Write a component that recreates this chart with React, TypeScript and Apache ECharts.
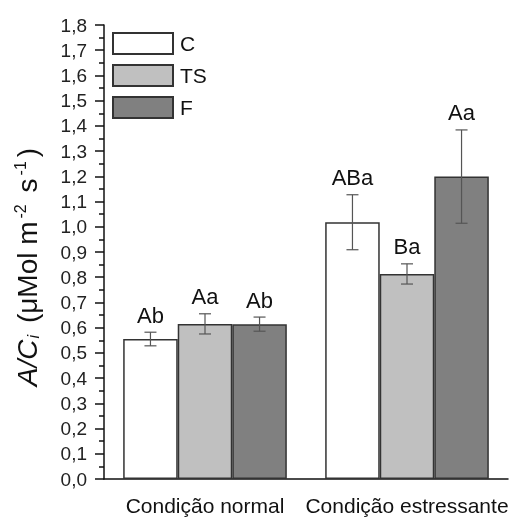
import React, { useEffect, useRef } from "react";
import * as echarts from "echarts";

const categories = ["Condição normal", "Condição estressante"];
const seriesNames = ["C", "TS", "F"];
const valuesC = [0.555, 1.018];
const valuesTS = [0.615, 0.813];
const valuesF = [0.614, 1.199];
const errorsC = [0.027, 0.109];
const errorsTS = [0.04, 0.04];
const errorsF = [0.028, 0.185];
const lettersC = ["Ab", "ABa"];
const lettersTS = ["Aa", "Ba"];
const lettersF = ["Ab", "Aa"];
const barColors = ["#ffffff", "#c0c0c0", "#808080"];

const FONT = "'Liberation Sans', Arial, sans-serif";
const BAR_FRAC = 0.27;

export default function App() {
  const ref = useRef<HTMLDivElement>(null);
  useEffect(() => {
    if (!ref.current) return;
    const chart = echarts.init(ref.current, undefined, { renderer: "svg" });
    const values = [valuesC, valuesTS, valuesF];
    const errors = [errorsC, errorsTS, errorsF];
    const letters = [lettersC, lettersTS, lettersF];

    const barSeries = seriesNames.map((name, k) => ({
      name,
      type: "bar",
      data: values[k],
      barWidth: BAR_FRAC * 100 + "%",
      barGap: "0%",
      itemStyle: { color: barColors[k], borderColor: "#333", borderWidth: 1.5 },
      z: 2,
    }));

    const errSeries = seriesNames.map((name, k) => ({
      name: "err" + name,
      type: "custom",
      z: 5,
      data: values[k].map((v, i) => [i, v, errors[k][i]]),
      encode: { x: 0, y: 1 },
      renderItem: (params: any, api: any) => {
        const idx = api.value(0);
        const v = api.value(1);
        const e = api.value(2);
        const band = api.size([1, 0])[0];
        const off = (k - 1) * band * BAR_FRAC;
        const top = api.coord([idx, v + e]);
        const bot = api.coord([idx, v - e]);
        const x = top[0] + off;
        const cap = 6;
        const ls = { stroke: "#555", lineWidth: 1.2 };
        return {
          type: "group",
          children: [
            { type: "line", shape: { x1: x, y1: top[1], x2: x, y2: bot[1] }, style: ls },
            { type: "line", shape: { x1: x - cap, y1: top[1], x2: x + cap, y2: top[1] }, style: ls },
            { type: "line", shape: { x1: x - cap, y1: bot[1], x2: x + cap, y2: bot[1] }, style: ls },
            {
              type: "text",
              x: x,
              y: top[1] - 17,
              style: {
                text: letters[k][params.dataIndex],
                fill: "#111",
                font: `22px ${FONT}`,
                align: "center",
                verticalAlign: "middle",
              },
            },
          ],
        };
      },
    }));

    const option: any = {
      animation: false,
      textStyle: { fontFamily: FONT },
      grid: { left: 104, right: 5, top: 25, bottom: 39, containLabel: false },
      legend: {
        data: seriesNames,
        orient: "vertical",
        left: 112,
        top: 32,
        padding: 0,
        itemWidth: 60,
        itemHeight: 21,
        itemGap: 9,
        icon: "rect",
        textStyle: { fontSize: 21, color: "#111", fontFamily: FONT, padding: [0, 0, 0, 2], lineHeight: 21 },
      },
      xAxis: [
        {
          type: "category",
          data: categories,
          axisLine: { lineStyle: { color: "#111", width: 1.5 } },
          axisTick: { alignWithLabel: true, length: 12, lineStyle: { color: "#111", width: 1.5 } },
          axisLabel: { fontSize: 21, color: "#111", margin: 16, fontFamily: FONT, interval: 0 },
          splitLine: { show: false },
        },
        {
          type: "category",
          data: categories,
          position: "bottom",
          axisLine: { show: false },
          axisTick: { alignWithLabel: false, length: 6, lineStyle: { color: "#111", width: 1.5 } },
          axisLabel: { show: false },
          splitLine: { show: false },
        },
      ],
      yAxis: {
        type: "value",
        min: 0,
        max: 1.8,
        interval: 0.1,
        axisLine: { show: true, lineStyle: { color: "#111", width: 1.5 } },
        axisTick: { show: true, length: 9, lineStyle: { color: "#111", width: 1.5 } },
        minorTick: { show: true, splitNumber: 2, length: 5, lineStyle: { color: "#111", width: 1.5 } },
        splitLine: { show: false },
        axisLabel: {
          fontSize: 19,
          color: "#222",
          margin: 17,
          fontFamily: FONT,
          formatter: (v: number) => v.toFixed(1).replace(".", ","),
        },
        name: "{it|A/C}{sub|i}{n| (μMol m}{sup|-2}{n| s}{sup|-1}{n|)}",
        nameLocation: "middle",
        nameRotate: 90,
        nameGap: 62,
        nameTextStyle: {
          fontFamily: FONT,
          color: "#111",
          padding: [0, 30, 0, 0],
          rich: {
            it: { fontSize: 28, fontStyle: "italic", fontFamily: FONT, color: "#111" },
            sub: { fontSize: 16, fontStyle: "italic", fontFamily: FONT, color: "#111", padding: [12, 4, 0, 1] },
            n: { fontSize: 28, fontFamily: FONT, color: "#111" },
            sup: { fontSize: 16, fontFamily: FONT, color: "#111", padding: [0, 4, 14, 3] },
          },
        },
      },
      series: [...barSeries, ...errSeries],
    };
    chart.setOption(option);
    return () => chart.dispose();
  }, []);
  return (
    <div style={{ position: "fixed", left: 0, top: 0, width: 513, height: 518 }}>
      <div ref={ref} style={{ width: 513, height: 518 }} />
    </div>
  );
}
